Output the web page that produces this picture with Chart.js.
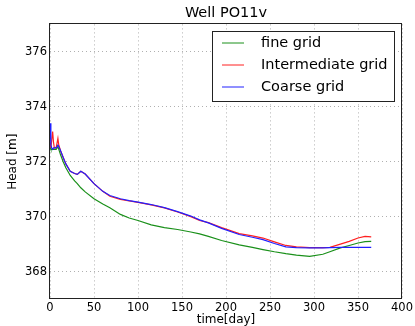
<!DOCTYPE html>
<html>
<head>
<meta charset="utf-8">
<script src="https://cdn.jsdelivr.net/npm/chart.js@4/dist/chart.umd.min.js"></script>
<style>
  html, body { margin: 0; padding: 0; background: #fff; }
  #wrap { width: 415px; height: 326px; position: relative; }
</style>
</head>
<body>
<div id="wrap"><canvas id="c" width="415" height="326"></canvas></div>
<script>
const titleText = "Well PO11v";
const xTitle = "time[day]";
const yTitle = "Head [m]";
const seriesNames = ["fine grid", "Intermediate grid", "Coarse grid"];
const seriesColors = ["#1a901a", "#ff2020", "#2020ff"];

const days = [0, 1, 2, 3, 4, 5, 7, 9, 10, 12, 15, 18, 23, 28, 31, 35, 40, 50, 60, 68, 80, 90, 100, 115, 130, 145, 160, 170, 180, 195, 215, 230, 242, 255, 268, 280, 295, 310, 318, 330, 340, 350, 358, 365];

const fineGrid = [372.55, 372.45, 372.45, 372.45, 372.45, 372.45, 372.45, 372.55, 372.45, 372.25, 372.0, 371.78, 371.5, 371.3, 371.2, 371.05, 370.9, 370.65, 370.46, 370.32, 370.08, 369.95, 369.86, 369.7, 369.6, 369.53, 369.44, 369.37, 369.28, 369.13, 368.97, 368.88, 368.8, 368.72, 368.65, 368.6, 368.55, 368.63, 368.72, 368.86, 368.95, 369.04, 369.09, 369.1];

const intermediateGrid = [372.7, 372.5, 372.8, 373.1, 372.7, 372.5, 372.5, 372.85, 372.6, 372.4, 372.15, 371.92, 371.65, 371.57, 371.54, 371.65, 371.55, 371.2, 370.92, 370.74, 370.63, 370.57, 370.52, 370.43, 370.32, 370.17, 370.0, 369.86, 369.78, 369.6, 369.38, 369.3, 369.22, 369.08, 368.95, 368.9, 368.87, 368.87, 368.88, 369.0, 369.1, 369.22, 369.28, 369.26];

const coarseGrid = [373.4, 372.6, 372.5, 372.45, 372.5, 372.5, 372.5, 372.6, 372.55, 372.4, 372.15, 371.92, 371.65, 371.57, 371.54, 371.65, 371.55, 371.2, 370.92, 370.77, 370.65, 370.58, 370.53, 370.44, 370.33, 370.18, 370.02, 369.88, 369.77, 369.57, 369.35, 369.25, 369.16, 369.02, 368.9, 368.87, 368.86, 368.86, 368.87, 368.88, 368.88, 368.88, 368.88, 368.88];

const xTicks = [0, 50, 100, 150, 200, 250, 300, 350, 400];
const yTicks = [368, 370, 372, 374, 376];

const FONT = "'DejaVu Sans', 'Liberation Sans', sans-serif";
const seriesValues = [fineGrid, intermediateGrid, coarseGrid];

const datasets = seriesValues.map((vals, i) => ({
  label: seriesNames[i],
  data: days.map((d, j) => ({ x: d, y: vals[j] })),
  borderColor: seriesColors[i],
  backgroundColor: seriesColors[i],
  borderWidth: 1.2,
  pointRadius: 0,
  tension: 0,
  fill: false,
  order: seriesValues.length - 1 - i
}));

const framePlugin = {
  id: 'frame',
  afterDraw(chart) {
    const { ctx, chartArea: a } = chart;
    ctx.save();
    ctx.setLineDash([]);
    ctx.strokeStyle = '#222';
    ctx.lineWidth = 1;
    const l = Math.round(a.left) - 0.5, t = Math.round(a.top) - 0.5;
    const r = Math.round(a.right) - 0.5, b = Math.round(a.bottom) - 0.5;
    ctx.strokeRect(l, t, r - l, b - t);
    // legend
    const lx = 212.5, ly = 31.5, lw = 182, lh = 70;
    ctx.fillStyle = '#fff';
    ctx.fillRect(lx, ly, lw, lh);
    ctx.strokeRect(lx, ly, lw, lh);
    ctx.font = "14.5px " + FONT;
    ctx.textBaseline = 'middle';
    ctx.textAlign = 'left';
    for (let i = 0; i < seriesNames.length; i++) {
      const y = 43.5 + i * 22;
      ctx.beginPath();
      ctx.strokeStyle = seriesColors[i];
      ctx.lineWidth = 1;
      ctx.moveTo(222, y - 0.5);
      ctx.lineTo(244, y - 0.5);
      ctx.stroke();
      ctx.fillStyle = '#000';
      ctx.fillText(seriesNames[i], 261, y);
    }
    ctx.restore();
  }
};

new Chart(document.getElementById('c'), {
  type: 'line',
  data: { datasets },
  options: {
    responsive: false,
    animation: false,
    devicePixelRatio: 1,
    layout: { padding: { left: 0, right: 12, top: 0, bottom: 0 } },
    plugins: {
      legend: { display: false },
      tooltip: { enabled: false },
      title: {
        display: true,
        text: titleText,
        fullSize: false,
        color: '#000',
        font: { family: FONT, size: 14.5, weight: 'normal', lineHeight: 1.2 },
        padding: { top: 5, bottom: 2 }
      }
    },
    scales: {
      x: {
        type: 'linear',
        min: 0,
        max: 400,
        afterBuildTicks(axis) { axis.ticks = xTicks.map(v => ({ value: v })); },
        afterFit(scale) { scale.height = 27; },
        ticks: { color: '#000', padding: 2, maxRotation: 0, font: { family: FONT, size: 11.5 } },
        grid: { color: '#b0b0b0', lineWidth: 1, drawTicks: false },
        border: { display: false, dash: [1, 3] },
        title: {
          display: true,
          text: xTitle,
          color: '#000',
          font: { family: FONT, size: 12, lineHeight: 1.0 },
          padding: { top: 0, bottom: 0 }
        }
      },
      y: {
        type: 'linear',
        min: 367,
        max: 377,
        afterBuildTicks(axis) { axis.ticks = yTicks.map(v => ({ value: v })); },
        afterFit(scale) { scale.width = 50; },
        ticks: { color: '#000', padding: 3, font: { family: FONT, size: 11.5 } },
        grid: { color: '#b0b0b0', lineWidth: 1, drawTicks: false },
        border: { display: false, dash: [1, 3] },
        title: {
          display: true,
          text: yTitle,
          color: '#000',
          font: { family: FONT, size: 12, lineHeight: 1.0 },
          padding: { top: 7, bottom: 0 }
        }
      }
    }
  },
  plugins: [framePlugin]
});
</script>
</body>
</html>
